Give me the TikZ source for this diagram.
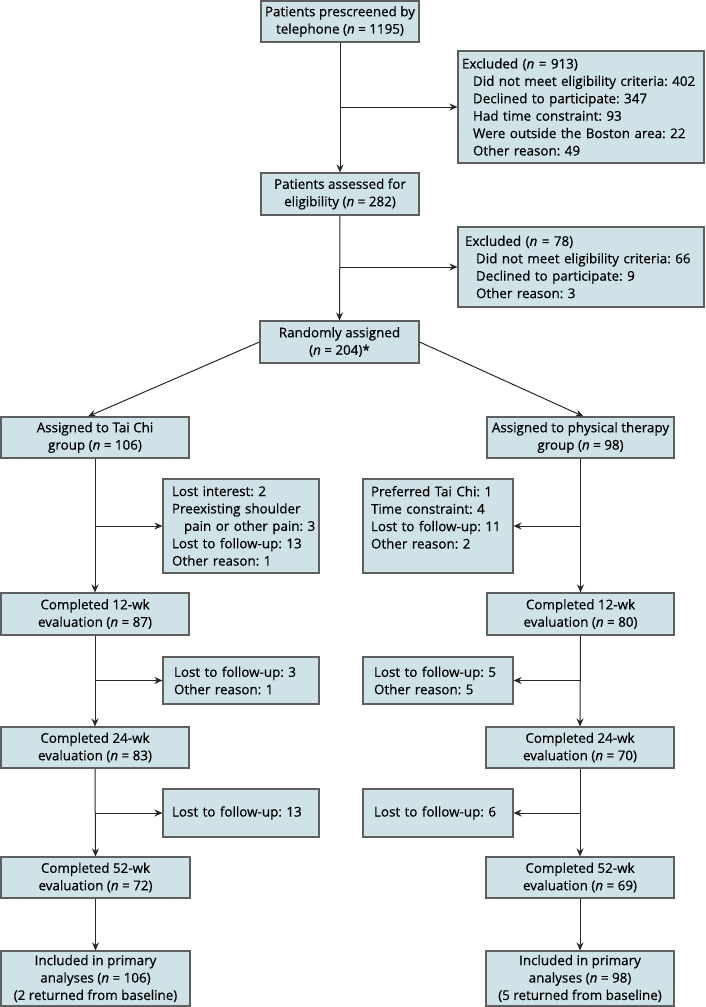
\documentclass[tikz,border=0pt]{standalone}
\usepackage{fontspec}
\setmainfont{Open Sans}[FakeBold=0.5]
\usetikzlibrary{arrows.meta}
\definecolor{boxfill}{RGB}{206,226,231}
\definecolor{boxline}{RGB}{95,95,95}
\definecolor{lineclr}{RGB}{40,40,40}
\newcommand{\ind}{\hspace*{11pt}}
\newcommand{\lpad}[2]{\leftskip=#1pt\relax #2\par}
\frenchspacing
\begin{document}
\begin{tikzpicture}[x=1pt,y=-1pt,
  box/.style={draw=boxline, fill=boxfill, line width=1.1pt, inner sep=0pt, align=center,
    font=\fontsize{13.4}{17.4}\selectfont\frenchspacing},
  side/.style={box, align=left, inner xsep=0pt, text width=#1},
  arr/.style={draw=lineclr, line width=1pt, -{Stealth[length=8pt,width=7pt]}}]
\useasboundingbox (0,0) rectangle (705,1007);
\fill[white] (0,0) rectangle (705,1007);
% center column
\node[box, minimum width=158, minimum height=41] (pre) at (340,21.5) {Patients prescreened by\\telephone (\textit{n} = 1195)};
\node[side=246, minimum height=112] (ex1) at (581,107) {\lpad{4}{Excluded (\textit{n} = 913)\\\ind Did not meet eligibility criteria: 402\\\ind Declined to participate: 347\\\ind Had time constraint: 93\\\ind Were outside the Boston area: 22\\\ind Other reason: 49}};
\node[box, minimum width=158, minimum height=42] (ass) at (340,194) {Patients assessed for\\eligibility (\textit{n} = 282)};
\node[side=246, minimum height=80] (ex2) at (581,267) {\lpad{7}{Excluded (\textit{n} = 78)\\\ind Did not meet eligibility criteria: 66\\\ind Declined to participate: 9\\\ind Other reason: 3}};
\node[box, minimum width=159, minimum height=42] (rand) at (339.5,342) {Randomly assigned\\(\textit{n} = 204)*};
% left column
\node[box, minimum width=188, minimum height=41] (tc) at (95,437.5) {Assigned to Tai Chi\\group (\textit{n} = 106)};
\node[side=156, minimum height=94] (tcx1) at (241,526) {\lpad{9}{Lost interest: 2\\Preexisting shoulder\\\hspace*{12pt}pain or other pain: 3\\Lost to follow-up: 13\\Other reason: 1}};
\node[box, minimum width=188, minimum height=42] (tc12) at (95,614) {Completed 12-wk\\evaluation (\textit{n} = 87)};
\node[side=156, minimum height=47] (tcx2) at (241,680.5) {\lpad{11}{Lost to follow-up: 3\\Other reason: 1}};
\node[box, minimum width=188, minimum height=41] (tc24) at (95,747.5) {Completed 24-wk\\evaluation (\textit{n} = 83)};
\node[side=156, minimum height=48] (tcx3) at (241,813) {\lpad{9}{Lost to follow-up: 13}};
\node[box, minimum width=189, minimum height=41] (tc52) at (95.5,877.5) {Completed 52-wk\\evaluation (\textit{n} = 72)};
\node[box, minimum width=189, minimum height=55] (tcin) at (95.5,978.5) {Included in primary\\analyses (\textit{n} = 106)\\(2 returned from baseline)};
% right column
\node[box, minimum width=187, minimum height=41] (pt) at (580.5,437.5) {Assigned to physical therapy\\group (\textit{n} = 98)};
\node[side=150, minimum height=94] (ptx1) at (438,526) {\lpad{8}{Preferred Tai Chi: 1\\Time constraint: 4\\Lost to follow-up: 11\\Other reason: 2\\\mbox{}}};
\node[box, minimum width=187, minimum height=42] (pt12) at (580.5,614) {Completed 12-wk\\evaluation (\textit{n} = 80)};
\node[side=150, minimum height=47] (ptx2) at (438,680.5) {\lpad{11}{Lost to follow-up: 5\\Other reason: 5}};
\node[box, minimum width=188, minimum height=41] (pt24) at (580,747.5) {Completed 24-wk\\evaluation (\textit{n} = 70)};
\node[side=150, minimum height=48] (ptx3) at (438,813) {\lpad{11}{Lost to follow-up: 6}};
\node[box, minimum width=188, minimum height=41] (pt52) at (580,877.5) {Completed 52-wk\\evaluation (\textit{n} = 69)};
\node[box, minimum width=188, minimum height=55] (ptin) at (580,978.5) {Included in primary\\analyses (\textit{n} = 98)\\(5 returned from baseline)};
% connectors
\draw[arr] (pre.south) -- (ass.north);
\draw[arr] (pre.south |- ex1.west) -- (ex1.west);
\draw[arr] (ass.south) -- (rand.north);
\draw[arr] (ass.south |- ex2.west) -- (ex2.west);
\draw[arr] (rand.west) -- ([xshift=-7pt]tc.north);
\draw[arr] (rand.east) -- ([xshift=3pt]pt.north);
\draw[arr] (tc.south) -- (tc12.north);
\draw[arr] (tc.south |- tcx1.west) -- (tcx1.west);
\draw[arr] (tc12.south) -- (tc24.north);
\draw[arr] (tc12.south |- tcx2.west) -- (tcx2.west);
\draw[arr] (tc24.south) -- (tc52.north);
\draw[arr] (tc24.south |- tcx3.west) -- (tcx3.west);
\draw[arr] (tc52.south) -- (tcin.north);
\draw[arr] (pt.south) -- (pt12.north);
\draw[arr] (pt.south |- ptx1.east) -- (ptx1.east);
\draw[arr] (pt12.south) -- (pt24.north);
\draw[arr] (pt12.south |- ptx2.east) -- (ptx2.east);
\draw[arr] (pt24.south) -- (pt52.north);
\draw[arr] (pt24.south |- ptx3.east) -- (ptx3.east);
\draw[arr] (pt52.south) -- (ptin.north);
\end{tikzpicture}
\end{document}
